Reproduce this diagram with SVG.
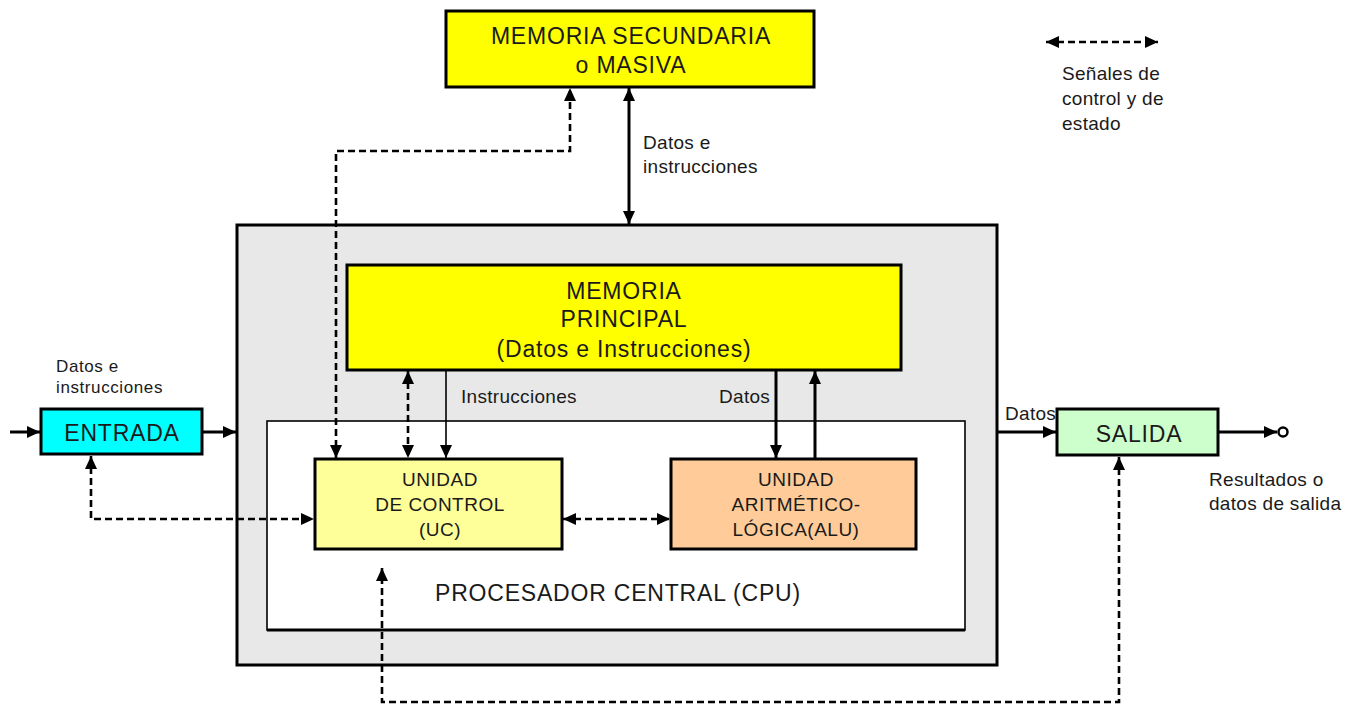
<svg xmlns="http://www.w3.org/2000/svg" width="1349" height="704" viewBox="0 0 1349 704">
<style>
text{font-family:"Liberation Sans",Arial,sans-serif;fill:#1a1a1a}
.box{stroke:#000;stroke-width:3}
.big{font-size:23px;letter-spacing:0.8px;text-anchor:middle}
.mid{font-size:19px;letter-spacing:0.5px;text-anchor:middle}
.lbl{font-size:19px;letter-spacing:0.3px}
.sm{font-size:17px;letter-spacing:0.6px}
.solid{stroke:#000;stroke-width:3;fill:none}
.thin{stroke:#000;stroke-width:1.6;fill:none}
.dash{stroke:#000;stroke-width:2.6;fill:none;stroke-dasharray:7 4}
</style>
<defs>
<marker id="ah" markerUnits="userSpaceOnUse" markerWidth="14" markerHeight="14" viewBox="0 0 14 14" refX="13" refY="7" orient="auto-start-reverse">
<path d="M0,1 L13,7 L0,13 z" fill="#000"/>
</marker>
</defs>
<rect width="1349" height="704" fill="#fff"/>
<g id="cpu">
<rect x="237" y="225" width="760" height="440" fill="#e8e8e8" class="box"/>
<rect x="267" y="421" width="698" height="209" fill="#fff" stroke="#000" stroke-width="1.6"/>
<line x1="267" y1="630" x2="965" y2="630" stroke="#000" stroke-width="3"/>
<text x="618" y="601" class="big">PROCESADOR CENTRAL (CPU)</text>
</g>
<g id="memoria-secundaria">
<rect x="446" y="11" width="368" height="76" fill="#ffff00" class="box"/>
<text x="631" y="44" class="big">MEMORIA SECUNDARIA</text>
<text x="631" y="73" class="big">o MASIVA</text>
</g>
<g id="memoria-principal">
<rect x="347" y="265" width="554" height="105" fill="#ffff00" class="box"/>
<text x="624" y="299" class="big">MEMORIA</text>
<text x="624" y="327" class="big">PRINCIPAL</text>
<text x="624" y="357" class="big">(Datos e Instrucciones)</text>
</g>
<g id="entrada">
<rect x="41" y="409" width="161" height="45" fill="#00ffff" class="box"/>
<text x="122" y="441" class="big">ENTRADA</text>
</g>
<g id="salida">
<rect x="1057" y="409" width="161" height="46" fill="#ccffcc" class="box"/>
<text x="1139" y="442" class="big">SALIDA</text>
</g>
<g id="uc">
<rect x="315" y="459" width="247" height="90" fill="#ffff99" class="box"/>
<text x="440" y="486" class="mid">UNIDAD</text>
<text x="440" y="511" class="mid">DE CONTROL</text>
<text x="440" y="536" class="mid">(UC)</text>
</g>
<g id="alu">
<rect x="671" y="459" width="245" height="90" fill="#ffcc99" class="box"/>
<text x="796" y="486" class="mid">UNIDAD</text>
<text x="796" y="511" class="mid">ARITMÉTICO-</text>
<text x="796" y="536" class="mid">LÓGICA(ALU)</text>
</g>
<g id="connectors">
<line x1="629" y1="88" x2="629" y2="224" class="solid" marker-start="url(#ah)" marker-end="url(#ah)"/>
<polyline points="336,458 336,151 570,151 570,88" class="dash" marker-start="url(#ah)" marker-end="url(#ah)"/>
<line x1="408" y1="371" x2="408" y2="458" class="dash" marker-start="url(#ah)" marker-end="url(#ah)"/>
<line x1="446" y1="371" x2="446" y2="458" class="thin" marker-end="url(#ah)"/>
<line x1="776" y1="371" x2="776" y2="458" class="solid" marker-end="url(#ah)"/>
<line x1="815" y1="459" x2="815" y2="371" class="solid" marker-end="url(#ah)"/>
<line x1="563" y1="519" x2="670" y2="519" class="dash" marker-start="url(#ah)" marker-end="url(#ah)"/>
<polyline points="91,456 91,519 314,519" class="dash" marker-start="url(#ah)" marker-end="url(#ah)"/>
<line x1="10" y1="432" x2="40" y2="432" class="solid" marker-end="url(#ah)"/>
<line x1="203" y1="432" x2="236" y2="432" class="solid" marker-end="url(#ah)"/>
<line x1="997" y1="432" x2="1056" y2="432" class="solid" marker-end="url(#ah)"/>
<line x1="1219" y1="432" x2="1277" y2="432" class="solid" marker-end="url(#ah)"/>
<circle cx="1283" cy="432" r="4.5" fill="#fff" stroke="#000" stroke-width="2.5"/>
<polyline points="1119,457 1119,702 382,702 382,568" class="dash" marker-start="url(#ah)" marker-end="url(#ah)"/>
<line x1="1046" y1="42" x2="1158" y2="42" class="dash" stroke-dasharray="5 3" marker-start="url(#ah)" marker-end="url(#ah)"/>
</g>
<g id="labels">
<text x="643" y="149" class="lbl">Datos e</text>
<text x="643" y="173" class="lbl">instrucciones</text>
<text x="461" y="403" class="lbl">Instrucciones</text>
<text x="719" y="403" class="lbl">Datos</text>
<text x="1005" y="420" class="lbl">Datos</text>
<text x="1209" y="486" class="lbl">Resultados o</text>
<text x="1209" y="510" class="lbl">datos de salida</text>
<text x="56" y="372" class="sm">Datos e</text>
<text x="56" y="393" class="sm">instrucciones</text>
<text x="1062" y="80" class="lbl">Señales de</text>
<text x="1062" y="105" class="lbl">control y de</text>
<text x="1062" y="130" class="lbl">estado</text>
</g>
</svg>
